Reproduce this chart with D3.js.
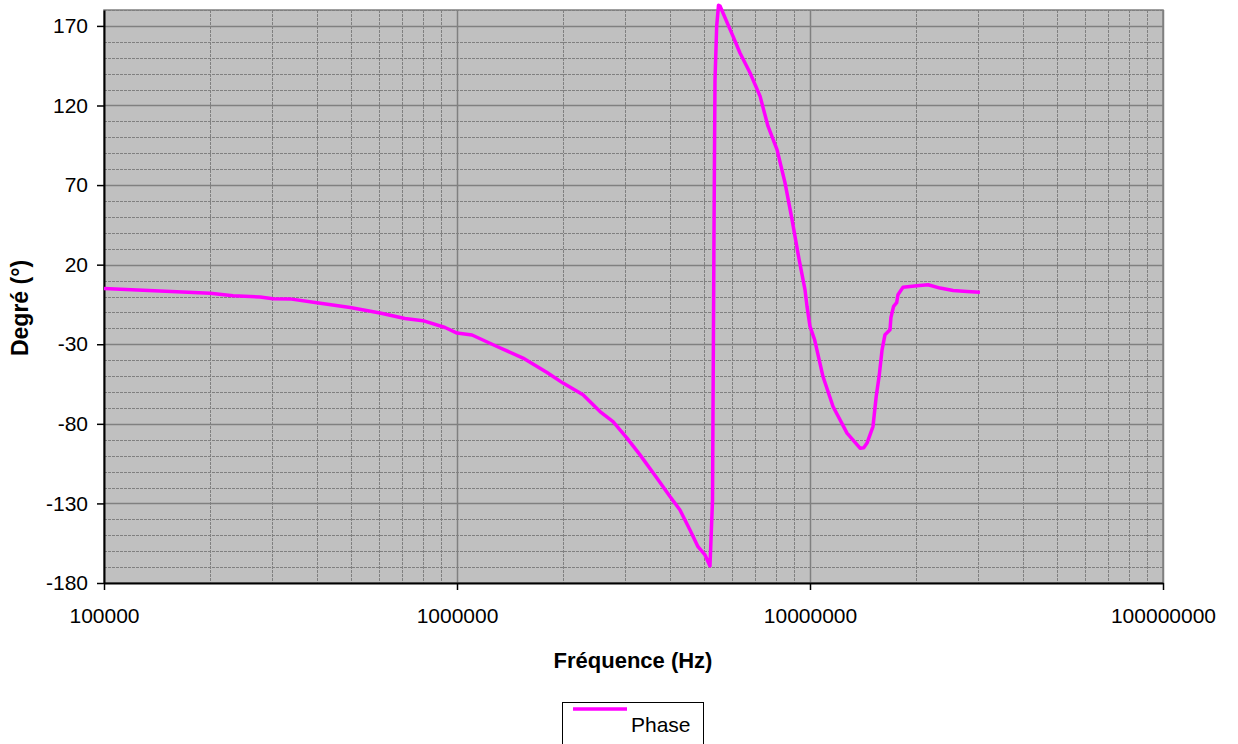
<!DOCTYPE html>
<html>
<head>
<meta charset="utf-8">
<script src="https://cdn.jsdelivr.net/npm/d3@7"></script>
<style>
  body { margin: 0; background: #fff; }
  text { font-family: "Liberation Sans", Arial, sans-serif; fill: #000; }
</style>
</head>
<body>
<div id="chart"></div>
<script>
// frequency (Hz) and phase (degrees)
var freqs = [100000, 200000, 232000, 277000, 301000, 336000, 401000, 498000, 605000, 712000,
  801000, 925000, 1000000, 1103000, 1298000, 1538000, 1799000, 1997000, 2275000, 2542000,
  2767000, 3031000, 3300000, 3687000, 4012000, 4282000, 4571000, 4816000, 5041000, 5208000,
  5295000, 5346000, 5381000, 5441000, 5506000, 5560000, 6050000, 6334000, 6761000, 7219000,
  7603000, 8065000, 8497000, 8895000, 9300000, 9678000, 9806000, 10000000, 10300000, 10884000,
  11620000, 12730000, 13860000, 14200000, 14505000, 15080000, 15400000, 15700000, 16000000, 16310000,
  16850000, 16950000, 17250000, 17600000, 17750000, 18340000, 20090000, 21600000, 23360000, 25420000,
  27840000, 30300000];
var phase = [5, 2, 0.5, -0.3, -1.4, -1.5, -3.9, -6.9, -10.4, -13.8,
  -15.2, -19.5, -23, -24.2, -31.4, -38.7, -47.7, -54.4, -61.8, -72.3,
  -78.6, -89, -99.5, -114.2, -125.7, -134.1, -146.7, -157.2, -162.4, -169.3,
  -128, 40, 136, 170, 183, 182.5, 163.6, 153, 140.6, 125.9,
  107, 92.3, 71.4, 48.3, 24, 4.3, -6.2, -18.8, -27, -50.3,
  -69.1, -85.8, -95.3, -95, -92.1, -81.7, -62.8, -50, -33.5, -24,
  -20.9, -13.3, -6.2, -3.9, 1.1, 5.8, 6.8, 7.4, 5.3, 3.8,
  3.2, 2.6];

var xTicks = [100000, 1000000, 10000000, 100000000];
var yTicks = [-180, -130, -80, -30, 20, 70, 120, 170];

var svgWidth = 1238;
var svgHeight = 744;
var plot = {left: 104, right: 1163, top: 10, bottom: 583};

var svg = d3.select("#chart")
  .append("svg")
  .attr("width", svgWidth)
  .attr("height", svgHeight);

var x = d3.scaleLog().domain([1e5, 1e8]).range([plot.left, plot.right]);
var y = d3.scaleLinear().domain([-180, 180]).range([plot.bottom, plot.top]);

// plot area
svg.append("rect")
  .attr("x", plot.left)
  .attr("y", plot.top)
  .attr("width", plot.right - plot.left)
  .attr("height", plot.bottom - plot.top)
  .attr("fill", "#c0c0c0");

// horizontal grid: minor every 10, major at tick values
var grid = svg.append("g");
d3.range(-170, 181, 10).forEach(function(v) {
  var major = yTicks.indexOf(v) >= 0;
  grid.append("line")
    .attr("x1", plot.left).attr("x2", plot.right)
    .attr("y1", Math.round(y(v)) + 0.5).attr("y2", Math.round(y(v)) + 0.5)
    .attr("stroke", "#808080")
    .attr("stroke-width", major ? 1.5 : 1)
    .attr("stroke-dasharray", major ? null : "3,1");
});

// vertical grid: decades solid, 2..9 dashed
[1e5, 1e6, 1e7].forEach(function(dec) {
  for (var k = 2; k <= 10; k++) {
    var v = dec * k;
    var major = (k === 10);
    grid.append("line")
      .attr("x1", Math.round(x(v)) + 0.5).attr("x2", Math.round(x(v)) + 0.5)
      .attr("y1", plot.top).attr("y2", plot.bottom)
      .attr("stroke", "#808080")
      .attr("stroke-width", major ? 1.5 : 1)
      .attr("stroke-dasharray", major ? null : "3,1");
  }
});

// plot border
svg.append("rect")
  .attr("x", plot.left)
  .attr("y", plot.top)
  .attr("width", plot.right - plot.left)
  .attr("height", plot.bottom - plot.top)
  .attr("fill", "none")
  .attr("stroke", "#808080")
  .attr("stroke-width", 1.5);

// axes
var bottomAxis = d3.axisBottom(x)
  .tickValues(xTicks)
  .tickFormat(d => String(d))
  .tickSizeInner(7)
  .tickSizeOuter(0)
  .tickPadding(18);

var leftAxis = d3.axisLeft(y)
  .tickValues(yTicks)
  .tickFormat(d => String(d))
  .tickSizeInner(7)
  .tickSizeOuter(0)
  .tickPadding(9);

var xAxis = svg.append("g")
  .attr("transform", `translate(0, ${plot.bottom})`)
  .call(bottomAxis);

var yAxis = svg.append("g")
  .attr("transform", `translate(${plot.left}, 0)`)
  .call(leftAxis);

[xAxis, yAxis].forEach(function(a) {
  a.select(".domain").attr("stroke", "#000").attr("stroke-width", 2);
  a.selectAll(".tick line").attr("stroke", "#000").attr("stroke-width", 1.5);
  a.selectAll("text")
    .style("font-family", "'Liberation Sans', Arial, sans-serif")
    .style("font-size", "21px")
    .attr("fill", "#000");
});

// phase curve
var line = d3.line()
  .x(function(d, i) { return x(freqs[i]); })
  .y(function(d) { return y(d); });

svg.append("path")
  .datum(phase)
  .attr("d", line)
  .attr("fill", "none")
  .attr("stroke", "#ff00ff")
  .attr("stroke-width", 3.5)
  .attr("stroke-linejoin", "round");

// titles
svg.append("text")
  .attr("x", 633)
  .attr("y", 668)
  .attr("text-anchor", "middle")
  .style("font-size", "22px")
  .style("font-weight", "bold")
  .text("Fréquence (Hz)");

svg.append("text")
  .attr("transform", "translate(28, 308) rotate(-90)")
  .attr("text-anchor", "middle")
  .style("font-size", "23px")
  .style("font-weight", "bold")
  .text("Degré (°)");

// legend
var legend = svg.append("g");
legend.append("rect")
  .attr("x", 562.5)
  .attr("y", 702.5)
  .attr("width", 141)
  .attr("height", 50)
  .attr("fill", "#fff")
  .attr("stroke", "#000")
  .attr("stroke-width", 1);
legend.append("line")
  .attr("x1", 573).attr("x2", 627)
  .attr("y1", 709).attr("y2", 709)
  .attr("stroke", "#ff00ff")
  .attr("stroke-width", 3.5);
legend.append("text")
  .attr("x", 631)
  .attr("y", 732)
  .style("font-size", "21px")
  .text("Phase");
</script>
</body>
</html>
